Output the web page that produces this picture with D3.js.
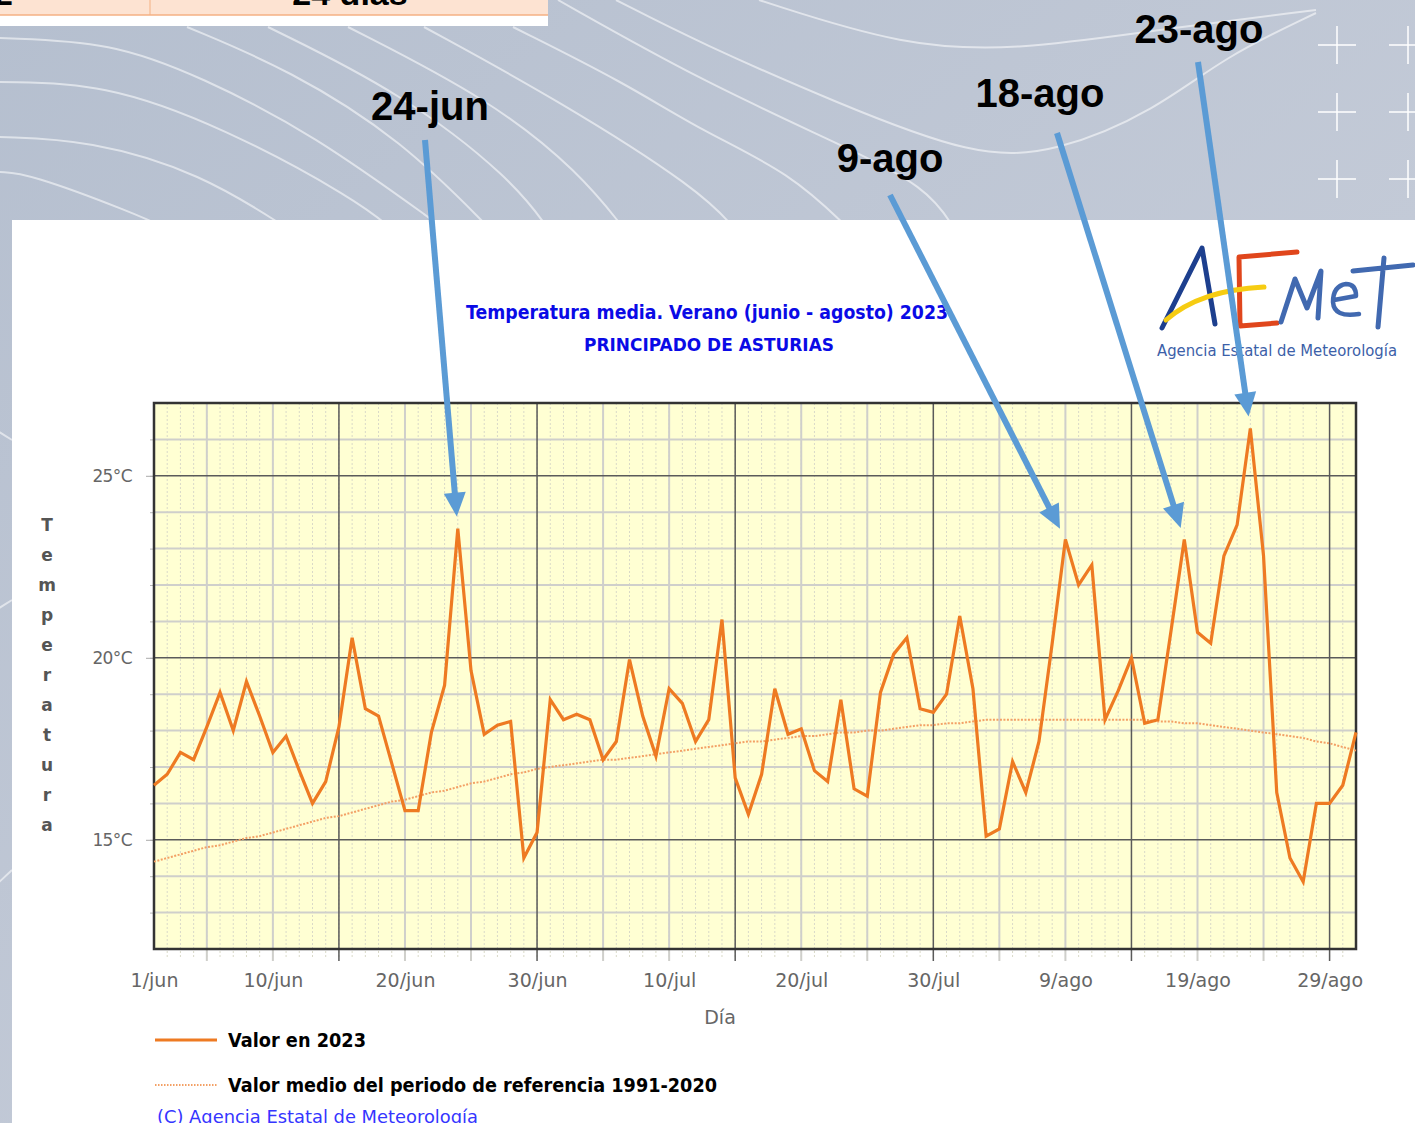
<!DOCTYPE html>
<html>
<head>
<meta charset="utf-8">
<script src="https://cdn.jsdelivr.net/npm/d3@7/dist/d3.min.js"></script>
<style>
  html, body { margin: 0; padding: 0; background: #fff; overflow: hidden; }
  svg { display: block; }
</style>
</head>
<body>
<div id="chart"></div>
<script>
// temperatura media diaria, 1/jun .. 31/ago (indice 0..91)
var valores2023 = [
    16.5, 16.8, 17.4, 17.2, 18.1, 19.05, 18.0, 19.35, 18.4, 17.4,
    17.85, 16.9, 16.0, 16.6, 18.1, 20.55, 18.6, 18.4, 17.1, 15.8,
    15.8, 17.95, 19.25, 23.55, 19.65, 17.9, 18.15, 18.25, 14.5, 15.2,
    18.85, 18.3, 18.45, 18.3, 17.2, 17.7, 19.95, 18.4, 17.3, 19.15,
    18.75, 17.7, 18.3, 21.05, 16.7, 15.7, 16.8, 19.15, 17.9, 18.05,
    16.9, 16.6, 18.85, 16.4, 16.2, 19.05, 20.1, 20.55, 18.6, 18.5,
    19.0, 21.15, 19.15, 15.1, 15.3, 17.15, 16.3, 17.7, 20.4, 23.25,
    22.0, 22.55, 18.3, 19.1, 20.0, 18.2, 18.3, 20.75, 23.25, 20.7,
    20.4, 22.8, 23.65, 26.3, 22.8, 16.3, 14.5, 13.85, 16.0, 16.0,
    16.5, 17.95
]

// valor medio 1991-2020
var valoresReferencia = [
    14.4, 14.5, 14.6, 14.7, 14.8, 14.85, 14.95, 15.05, 15.1, 15.2,
    15.3, 15.4, 15.5, 15.6, 15.65, 15.75, 15.85, 15.95, 16.05, 16.1,
    16.2, 16.3, 16.35, 16.45, 16.55, 16.6, 16.7, 16.8, 16.85, 16.95,
    17.0, 17.05, 17.1, 17.15, 17.2, 17.2, 17.25, 17.3, 17.35, 17.4,
    17.45, 17.5, 17.55, 17.6, 17.65, 17.7, 17.7, 17.75, 17.8, 17.85,
    17.85, 17.9, 17.95, 17.95, 18.0, 18.0, 18.05, 18.1, 18.15, 18.15,
    18.2, 18.2, 18.25, 18.3, 18.3, 18.3, 18.3, 18.3, 18.3, 18.3,
    18.3, 18.3, 18.3, 18.3, 18.3, 18.3, 18.25, 18.25, 18.2, 18.2,
    18.15, 18.1, 18.05, 18.0, 17.95, 17.9, 17.85, 17.8, 17.7, 17.65,
    17.55, 17.45
]

var etiquetasDias = ['1/jun', '10/jun', '20/jun', '30/jun', '10/jul', '20/jul', '30/jul', '9/ago', '19/ago', '29/ago']
var posicionesDias = [0, 9, 19, 29, 39, 49, 59, 69, 79, 89]
var ticksTemperatura = [15, 20, 25]

var anotaciones = ['24-jun', '9-ago', '18-ago', '23-ago']
var diasAnotados = [23, 69, 78, 83]

var W = 1415, H = 1123
var azulFlecha = '#5b9bd5'
var naranja = '#ee7a22'
var naranjaClaro = '#f3a065'

var svg = d3.select('#chart').append('svg')
    .attr('width', W)
    .attr('height', H)

var x = d3.scaleLinear().domain([0, 91]).range([154, 1356])
var y = d3.scaleLinear().domain([12, 27]).range([949, 403])

renderFondo()
renderPanel()
renderGrid()
renderEjes()
renderLineas()
renderLeyenda()
renderLogo()
renderAnotaciones()

// fondo de la diapositiva (curvas de nivel, tabla cortada arriba)
function renderFondo() {
    var defs = svg.append('defs')
    var grad = defs.append('linearGradient')
        .attr('id', 'bg')
        .attr('x1', 0).attr('y1', 0).attr('x2', 1).attr('y2', 1)
    grad.append('stop').attr('offset', '0%').attr('stop-color', '#b5bfcf')
    grad.append('stop').attr('offset', '60%').attr('stop-color', '#c3cad7')
    grad.append('stop').attr('offset', '100%').attr('stop-color', '#d3d8e1')

    svg.append('rect')
        .attr('width', W).attr('height', H)
        .attr('fill', 'url(#bg)')

    var curvas = [
        [[0, 38], [112, 42], [201, 77], [312, 133], [446, 230]],
        [[0, 82], [103, 83], [223, 127], [357, 200], [393, 230]],
        [[0, 137], [89, 140], [201, 173], [290, 230]],
        [[0, 172], [27, 173], [134, 213], [170, 230]],
        [[187, 27], [290, 70], [402, 140], [491, 230]],
        [[268, 27], [402, 93], [513, 180], [549, 230]],
        [[348, 27], [491, 100], [580, 173], [625, 230]],
        [[424, 27], [558, 100], [700, 190], [736, 230]],
        [[513, 27], [625, 83], [700, 130], [791, 173], [850, 230]],
        [[558, 0], [700, 80], [837, 143], [928, 187], [955, 230]],
        [[616, 0], [700, 43], [837, 103], [974, 157], [1056, 153], [1156, 110], [1224, 57], [1316, 13]],
        [[759, 0], [905, 47], [1019, 50], [1156, 30], [1316, 10]],
        [[-20, 420], [12, 440]],
        [[-20, 620], [12, 600]],
        [[-20, 900], [12, 870]]
    ]
    var linea = d3.line().curve(d3.curveBasis)
    svg.append('g')
        .selectAll('path')
        .data(curvas)
        .enter()
        .append('path')
        .attr('d', linea)
        .attr('fill', 'none')
        .attr('stroke', '#fff')
        .attr('stroke-opacity', 0.55)
        .attr('stroke-width', 2)

    // cruces arriba a la derecha
    var cruces = svg.append('g').attr('stroke', '#fff').attr('stroke-opacity', 0.75).attr('stroke-width', 2)
    ;[45, 112, 179].forEach(function (cy) {
        ;[1337, 1408].forEach(function (cx) {
            cruces.append('line').attr('x1', cx - 19).attr('x2', cx + 19).attr('y1', cy).attr('y2', cy)
            cruces.append('line').attr('x1', cx).attr('x2', cx).attr('y1', cy - 19).attr('y2', cy + 19)
        })
    })

    // tabla cortada
    svg.append('rect').attr('x', 0).attr('y', 0).attr('width', 548).attr('height', 26).attr('fill', '#fff')
    svg.append('rect').attr('x', 0).attr('y', 0).attr('width', 548).attr('height', 15).attr('fill', '#fde3d2')
    svg.append('line').attr('x1', 0).attr('x2', 548).attr('y1', 15).attr('y2', 15)
        .attr('stroke', '#f4b183').attr('stroke-width', 1.5)
    svg.append('line').attr('x1', 150).attr('x2', 150).attr('y1', 0).attr('y2', 15)
        .attr('stroke', '#f4b183').attr('stroke-width', 1)
    svg.append('text').attr('x', 350).attr('y', 5)
        .attr('text-anchor', 'middle')
        .style('font', 'bold 34px "Liberation Sans", Arial, sans-serif')
        .text('24 días')
    svg.append('text').attr('x', -6).attr('y', 5)
        .style('font', 'bold 34px "Liberation Sans", Arial, sans-serif')
        .text('2')
}

function renderPanel() {
    svg.append('rect')
        .attr('x', 12).attr('y', 220)
        .attr('width', W - 12).attr('height', H - 220)
        .attr('fill', '#fff')

    svg.append('text')
        .attr('x', 707).attr('y', 319)
        .attr('text-anchor', 'middle')
        .attr('fill', '#0a0ae6')
        .attr('textLength', 482).attr('lengthAdjust', 'spacingAndGlyphs')
        .style('font', 'bold 19px "DejaVu Sans", Verdana, sans-serif')
        .text('Temperatura media. Verano (junio - agosto) 2023')

    svg.append('text')
        .attr('x', 709).attr('y', 351)
        .attr('text-anchor', 'middle')
        .attr('fill', '#0a0ae6')
        .attr('textLength', 250).attr('lengthAdjust', 'spacingAndGlyphs')
        .style('font', 'bold 18px "DejaVu Sans", Verdana, sans-serif')
        .text('PRINCIPADO DE ASTURIAS')
}

function renderGrid() {
    var g = svg.append('g').attr('class', 'grid')

    g.append('rect')
        .attr('x', x(0)).attr('y', y(27))
        .attr('width', x(91) - x(0)).attr('height', y(12) - y(27))
        .attr('fill', '#ffffd3')

    // lineas diarias punteadas
    g.selectAll('line.dia')
        .data(d3.range(1, 91))
        .enter().append('line')
        .attr('class', 'dia')
        .attr('x1', d => x(d)).attr('x2', d => x(d))
        .attr('y1', y(27)).attr('y2', y(12) + 10)
        .attr('stroke', '#d9d9c8')
        .attr('stroke-dasharray', '2,2')

    // cada 5 dias
    g.selectAll('line.cinco')
        .data(d3.range(4, 91, 5).filter(d => (d + 1) % 15 !== 0))
        .enter().append('line')
        .attr('class', 'cinco')
        .attr('x1', d => x(d)).attr('x2', d => x(d))
        .attr('y1', y(27)).attr('y2', y(12) + 12)
        .attr('stroke', '#cfcfcb')
        .attr('stroke-width', 2)

    // cada grado
    g.selectAll('line.grado')
        .data(d3.range(13, 27).filter(d => d % 5 !== 0))
        .enter().append('line')
        .attr('class', 'grado')
        .attr('x1', x(0)).attr('x2', x(91))
        .attr('y1', d => y(d)).attr('y2', d => y(d))
        .attr('stroke', '#cfcfcb')
        .attr('stroke-width', 2)

    g.selectAll('line.mayorV')
        .data(d3.range(14, 91, 15))
        .enter().append('line')
        .attr('class', 'mayorV')
        .attr('x1', d => x(d)).attr('x2', d => x(d))
        .attr('y1', y(27)).attr('y2', y(12) + 12)
        .attr('stroke', '#5a5a5a')
        .attr('stroke-width', 1.5)

    g.selectAll('line.mayorH')
        .data(ticksTemperatura)
        .enter().append('line')
        .attr('class', 'mayorH')
        .attr('x1', x(0)).attr('x2', x(91))
        .attr('y1', d => y(d)).attr('y2', d => y(d))
        .attr('stroke', '#5a5a5a')
        .attr('stroke-width', 1.5)
}

function renderEjes() {
    var axX = svg.append('g')
        .attr('transform', 'translate(0,' + y(12) + ')')
        .call(d3.axisBottom(x)
            .tickValues(posicionesDias)
            .tickFormat((d, i) => etiquetasDias[i])
            .tickSize(0)
            .tickPadding(25))
    axX.select('.domain').remove()
    axX.selectAll('text')
        .attr('fill', '#666')
        .style('font', '19px "DejaVu Sans", Verdana, sans-serif')

    var axYmenor = svg.append('g')
        .attr('transform', 'translate(' + x(0) + ',0)')
        .call(d3.axisLeft(y).tickValues(d3.range(13, 27)).tickSize(4).tickFormat(''))
    axYmenor.select('.domain').remove()
    axYmenor.selectAll('line').attr('stroke', '#bbb')

    var axY = svg.append('g')
        .attr('transform', 'translate(' + x(0) + ',0)')
        .call(d3.axisLeft(y)
            .tickValues(ticksTemperatura)
            .tickFormat(d => d + '°C')
            .tickSize(8)
            .tickPadding(14))
    axY.select('.domain').remove()
    axY.selectAll('line').attr('stroke', '#aaa')
    axY.selectAll('text')
        .attr('fill', '#666')
        .style('font', '17px "DejaVu Sans", Verdana, sans-serif')
        .attr('letter-spacing', '-0.6')

    // marco
    svg.append('rect')
        .attr('x', x(0)).attr('y', y(27))
        .attr('width', x(91) - x(0)).attr('height', y(12) - y(27))
        .attr('fill', 'none')
        .attr('stroke', '#333')
        .attr('stroke-width', 2.5)

    // titulos de ejes
    svg.append('text')
        .attr('x', 720).attr('y', 1024)
        .attr('text-anchor', 'middle')
        .attr('fill', '#666')
        .style('font', '19px "DejaVu Sans", Verdana, sans-serif')
        .text('Día')

    svg.append('g')
        .selectAll('text')
        .data('Temperatura'.split(''))
        .enter().append('text')
        .attr('x', 47)
        .attr('y', (d, i) => 531 + i * 30)
        .attr('text-anchor', 'middle')
        .attr('fill', '#555')
        .style('font', 'bold 17px "DejaVu Sans", Verdana, sans-serif')
        .text(d => d)
}

function renderLineas() {
    var linea = d3.line()
        .x((d, i) => x(i))
        .y(d => y(d))

    svg.append('path')
        .datum(valoresReferencia)
        .attr('d', linea)
        .attr('fill', 'none')
        .attr('stroke', naranjaClaro)
        .attr('stroke-width', 2)
        .attr('stroke-dasharray', '2,1.5')

    svg.append('path')
        .datum(valores2023)
        .attr('d', linea)
        .attr('fill', 'none')
        .attr('stroke', naranja)
        .attr('stroke-width', 3.2)
        .attr('stroke-linejoin', 'miter')
}

function renderLeyenda() {
    var g = svg.append('g')
    g.append('line')
        .attr('x1', 155).attr('x2', 217).attr('y1', 1040).attr('y2', 1040)
        .attr('stroke', naranja).attr('stroke-width', 3)
    g.append('text')
        .attr('x', 228).attr('y', 1047)
        .attr('textLength', 138).attr('lengthAdjust', 'spacingAndGlyphs')
        .style('font', 'bold 19px "DejaVu Sans", Verdana, sans-serif')
        .text('Valor en 2023')

    g.append('line')
        .attr('x1', 155).attr('x2', 217).attr('y1', 1085).attr('y2', 1085)
        .attr('stroke', naranjaClaro).attr('stroke-width', 2)
        .attr('stroke-dasharray', '1.5,1.5')
    g.append('text')
        .attr('x', 228).attr('y', 1092)
        .attr('textLength', 489).attr('lengthAdjust', 'spacingAndGlyphs')
        .style('font', 'bold 19px "DejaVu Sans", Verdana, sans-serif')
        .text('Valor medio del periodo de referencia 1991-2020')

    g.append('text')
        .attr('x', 157).attr('y', 1123)
        .attr('fill', '#3535ff')
        .attr('textLength', 321).attr('lengthAdjust', 'spacingAndGlyphs')
        .style('font', '18px "DejaVu Sans", Verdana, sans-serif')
        .text('(C) Agencia Estatal de Meteorología')
}

// logo AEMET aproximado
function renderLogo() {
    var g = svg.append('g')
        .attr('fill', 'none')
        .attr('stroke-linecap', 'round')
        .attr('stroke-linejoin', 'round')

    // A
    g.append('path')
        .attr('d', 'M1162,328 L1202,248 L1215,324')
        .attr('stroke', '#1d3f8e').attr('stroke-width', 5)
    // E
    g.append('path')
        .attr('d', 'M1297,252 L1239,257 L1240,326 L1277,323')
        .attr('stroke', '#e0461c').attr('stroke-width', 5)
    // trazo amarillo
    g.append('path')
        .attr('d', 'M1166,320 Q1200,290 1264,287')
        .attr('stroke', '#f6cc12').attr('stroke-width', 5)
    // M
    g.append('path')
        .attr('d', 'M1281,322 L1295,279 L1307,308 L1321,271 L1318,318')
        .attr('stroke', '#4169b0').attr('stroke-width', 5)
    // e
    g.append('path')
        .attr('d', 'M1334,300 L1356,296 Q1356,284 1346,284 Q1333,286 1333,302 Q1334,318 1359,314')
        .attr('stroke', '#4169b0').attr('stroke-width', 4.5)
    // t
    g.append('path')
        .attr('d', 'M1384,258 L1378,327 M1353,271 L1413,265')
        .attr('stroke', '#4169b0').attr('stroke-width', 5)

    svg.append('text')
        .attr('x', 1157).attr('y', 356)
        .attr('fill', '#3c60a8')
        .attr('textLength', 240).attr('lengthAdjust', 'spacingAndGlyphs')
        .style('font', '16px "DejaVu Sans", Verdana, sans-serif')
        .text('Agencia Estatal de Meteorología')
}

function renderAnotaciones() {
    var posEtiqueta = [[430, 120], [890, 172], [1040, 107], [1199, 43]]
    var inicioFlecha = [[425, 140], [890, 195], [1057, 133], [1198, 62]]

    var g = svg.append('g')

    anotaciones.forEach(function (txt, i) {
        var dia = diasAnotados[i]
        var px = x(dia), py = y(valores2023[dia])
        var x0 = inicioFlecha[i][0], y0 = inicioFlecha[i][1]
        var dx = px - x0, dy = py - y0
        var len = Math.sqrt(dx * dx + dy * dy)
        var ux = dx / len, uy = dy / len
        var tipX = px - ux * 12, tipY = py - uy * 12
        var baseX = tipX - ux * 24, baseY = tipY - uy * 24
        var nx = -uy, ny = ux

        g.append('line')
            .attr('x1', x0).attr('y1', y0)
            .attr('x2', baseX + ux * 2).attr('y2', baseY + uy * 2)
            .attr('stroke', azulFlecha)
            .attr('stroke-width', 6)
        g.append('path')
            .attr('d', 'M' + tipX + ',' + tipY +
                'L' + (baseX + nx * 11) + ',' + (baseY + ny * 11) +
                'L' + (baseX - nx * 11) + ',' + (baseY - ny * 11) + 'Z')
            .attr('fill', azulFlecha)

        g.append('text')
            .attr('x', posEtiqueta[i][0]).attr('y', posEtiqueta[i][1])
            .attr('text-anchor', 'middle')
            .style('font', 'bold 40px "Liberation Sans", Arial, sans-serif')
            .text(txt)
    })
}
</script>
</body>
</html>
